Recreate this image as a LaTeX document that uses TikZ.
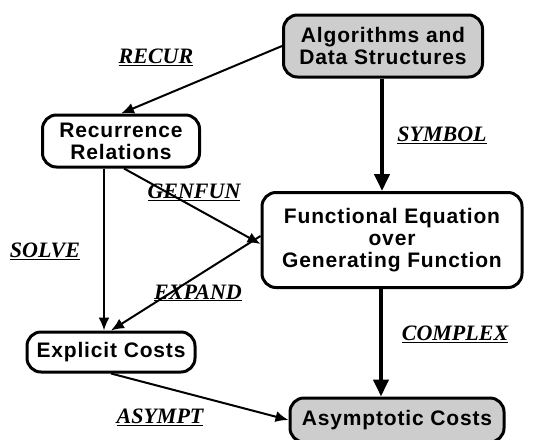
\documentclass[tikz,border=0pt]{standalone}
\usepackage{fontspec}
\setsansfont{Liberation Sans}[LetterSpace=4]
\setmainfont{Liberation Serif}
\usepackage{tikz}
\usetikzlibrary{arrows.meta,positioning,calc}
\definecolor{shadegray}{RGB}{205,205,205}
\tikzstyle{block} = [rectangle, rounded corners=14pt, draw=black, line width=3pt,
    align=center, inner sep=2pt, font=\sffamily\bfseries\fontsize{21}{22}\selectfont]
\tikzstyle{shaded} = [fill=shadegray]
\tikzstyle{arrow} = [line width=2pt, -{Latex[length=13pt,width=11pt]}]
\tikzstyle{bigarrow} = [line width=4pt, -{Triangle[length=17pt,width=15pt]}]
\tikzstyle{steplabel} = [font=\rmfamily\bfseries\itshape\fontsize{22}{24}\selectfont, inner sep=0pt]

\begin{document}
\begin{tikzpicture}[x=1pt, y=-1pt]
\useasboundingbox (0,0) rectangle (537,439);

% ── Nodes ────
\node[block, shaded, minimum width=199pt, minimum height=62pt] (algo) at (383,46) {Algorithms and\\Data Structures};
\node[block, minimum width=157pt, minimum height=52pt] (recur) at (121,141) {Recurrence\\Relations};
\node[block, minimum width=260pt, minimum height=95pt] (funeq) at (392,240) {Functional Equation\\over\\Generating Function};
\node[block, minimum width=168pt, minimum height=40pt] (explicit) at (111,352) {Explicit Costs};
\node[block, shaded, minimum width=214pt, minimum height=44pt] (asympt) at (397,420) {Asymptotic Costs};

% ── Arrows ────
\draw[arrow] (algo.west) -- (recur.north);
\draw[bigarrow] ([xshift=-1pt]algo.south) -- ([xshift=-1pt]algo.south |- funeq.north);
\draw[arrow] ([xshift=3pt]recur.south) -- ([yshift=-4pt]funeq.west);
\draw[arrow] ([xshift=-17pt]recur.south) -- ([xshift=-17pt]recur.south |- explicit.north);
\draw[arrow] ([yshift=4pt]funeq.west) -- (explicit.north);
\draw[bigarrow] ([xshift=-11pt]funeq.south) -- ([xshift=-11pt]funeq.south |- asympt.north);
\draw[arrow] (explicit.south) -- (asympt.west);

% ── Step labels ────
\node[steplabel] (lrecur) at (156,57) {\underline{RECUR}};
\node[steplabel] (lsymbol) at (442,135) {\underline{SYMBOL}};
\node[steplabel] (lgenfun) at (194,192) {\underline{GENFUN}};
\node[steplabel] (lsolve) at (45,251) {\underline{SOLVE}};
\node[steplabel] (lexpand) at (198,293) {\underline{EXPAND}};
\node[steplabel] (lcomplex) at (455,334) {\underline{COMPLEX}};
\node[steplabel] (lasympt) at (160,417) {\underline{ASYMPT}};

\end{tikzpicture}
\end{document}
